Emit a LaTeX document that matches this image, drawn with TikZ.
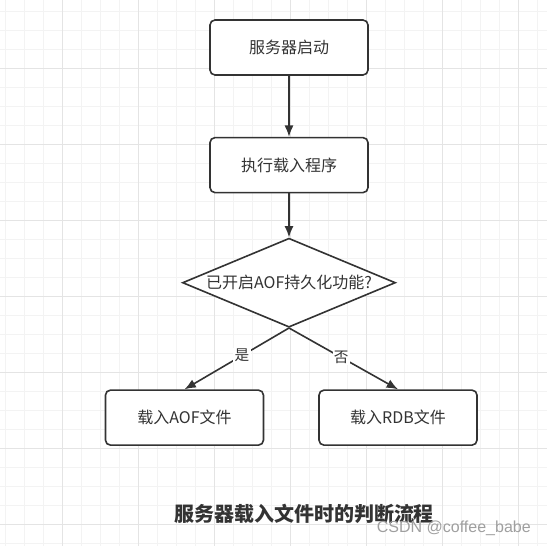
\documentclass[tikz,border=0pt]{standalone}
\usepackage{fontspec}
\setmainfont{Noto Sans CJK SC}
\newfontfamily\wmfont{Liberation Sans}
\usepackage{tikz}
\usetikzlibrary{shapes.geometric, positioning}
\usetikzlibrary{arrows.meta}
\tikzset{>={Latex[width=2.4mm,length=3mm]}}
\definecolor{ink}{HTML}{333333}
\definecolor{minorgrid}{HTML}{F3F3F3}
\definecolor{majorgrid}{HTML}{E4E4E4}

\begin{document}
\begin{tikzpicture}[x=0.75pt, y=-0.75pt, procbox/.style={rectangle, rounded corners=3.75pt, draw=ink, fill=white, line width=1.2pt, minimum width=118.5pt, minimum height=41.25pt, text=ink, font=\fontsize{12}{14}\selectfont}, decision/.style={diamond, draw=ink, fill=white, line width=1.2pt, inner sep=0pt, shape aspect=2.39, minimum width=159.75pt, minimum height=66.75pt, text=ink, font=\fontsize{12}{14}\selectfont}, choice/.style={fill=white, inner sep=1pt, text=ink, font=\fontsize{11}{13}\selectfont}, flow/.style={->, draw=ink, line width=1.2pt}]
    \useasboundingbox (0,0) rectangle (547,546);
    
    %Grid
    \foreach \x in {5,24,...,546} \draw[minorgrid, line width=0.6pt] (\x,0) -- (\x,546);
    \foreach \y in {11,30,...,546} \draw[minorgrid, line width=0.6pt] (0,\y) -- (547,\y);
    \foreach \x in {62,138,...,546} \draw[majorgrid, line width=0.75pt] (\x,0) -- (\x,546);
    \foreach \y in {68,144,...,546} \draw[majorgrid, line width=0.75pt] (0,\y) -- (547,\y);
    
    %Nodes
    \node[procbox](start) at (289,47.5){服务器启动};
    \node[procbox](exec)[below=45.75pt of start]{执行载入程序};
    \node[decision](check)[below=33pt of exec]{已开启AOF持久化功能?};
    \node[procbox](loadaof)[below=46pt of check.south, xshift=-78.4pt]{载入AOF文件};
    \node[procbox](loadrdb)[below=46pt of check.south, xshift=81.75pt]{载入RDB文件};
    \node[text=ink, font=\fontsize{15}{18}\selectfont\bfseries](title) at (304,514){服务器载入文件时的判断流程};
    \node[text=gray!75, font=\wmfont\fontsize{12}{14}\selectfont, anchor=south east, inner sep=0pt](mark) at (531,536){CSDN @coffee\_babe};
    
    %Lines
    \draw[flow] (start) -- (exec);
    \draw[flow] (exec) -- (check);
    \draw[flow] (check.south) -- node[choice, pos=0.45]{是} (loadaof.north);
    \draw[flow] (check.south) -- node[choice, pos=0.48]{否} (loadrdb.north);
    
\end{tikzpicture}
\end{document}
